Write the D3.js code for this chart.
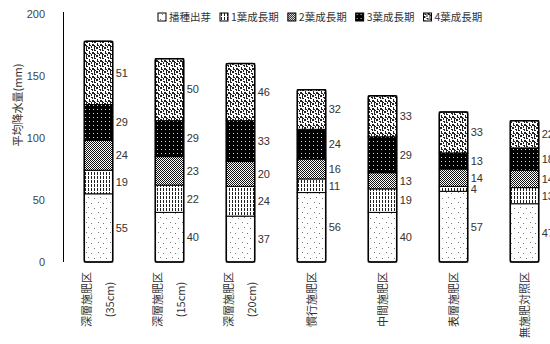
<!DOCTYPE html>
<meta charset="utf-8">
<style>
body { margin: 0; background: #fff; }
text { font-family: "Liberation Sans", "Noto Sans CJK JP", sans-serif; }
.cjk { font-family: "Noto Sans CJK JP", sans-serif; }
.tick { font-size: 11px; fill: #444; }
.val { font-size: 11px; fill: #333; }
.legendLabel { font-size: 10.5px; fill: #333; }
</style>
<body>
<script src="https://d3js.org/d3.v7.min.js"></script>
<script>
// categories (two-line labels for the first three)
const categories = [
  ["深層施肥区", "(35cm)"],
  ["深層施肥区", "(15cm)"],
  ["深層施肥区", "(20cm)"],
  ["慣行施肥区"],
  ["中間施肥区"],
  ["表層施肥区"],
  ["無施肥対照区"]
];
const stages = ["播種出芽", "1葉成長期", "2葉成長期", "3葉成長期", "4葉成長期"];
// values per stage, bottom to top
const stage0 = [55, 40, 37, 56, 40, 57, 47];
const stage1 = [19, 22, 24, 11, 19, 4, 13];
const stage2 = [24, 23, 20, 16, 13, 14, 14];
const stage3 = [29, 29, 33, 24, 29, 13, 18];
const stage4 = [51, 50, 46, 32, 33, 33, 22];
const yTicks = [0, 50, 100, 150, 200];
const yTitle = "平均降水量(mm)";

const width = 550, height = 344;
const svg = d3.select("body").append("svg")
    .attr("width", width)
    .attr("height", height);

// fill patterns
const defs = svg.append("defs");
function pat(id, w, h, draw) {
  const p = defs.append("pattern").attr("id", id)
      .attr("patternUnits", "userSpaceOnUse")
      .attr("width", w).attr("height", h);
  draw(p);
}
pat("p0", 12, 10, p => {
  p.append("rect").attr("width", 12).attr("height", 10).attr("fill", "#fff");
  [[2, 2], [7, 3], [4, 7], [10, 8]].forEach(d =>
    p.append("rect").attr("x", d[0]).attr("y", d[1]).attr("width", 1).attr("height", 1).attr("fill", "#777"));
});
pat("p1", 3, 4, p => {
  p.append("rect").attr("width", 3).attr("height", 4).attr("fill", "#fff");
  p.append("rect").attr("x", 1).attr("width", 1).attr("height", 3).attr("fill", "#222");
});
pat("p2", 2, 2, p => {
  p.append("rect").attr("width", 2).attr("height", 2).attr("fill", "#fff");
  p.append("rect").attr("width", 1).attr("height", 1).attr("fill", "#111");
  p.append("rect").attr("x", 1).attr("y", 1).attr("width", 1).attr("height", 1).attr("fill", "#111");
});
pat("p3", 4, 4, p => {
  p.append("rect").attr("width", 4).attr("height", 4).attr("fill", "#000");
  p.append("rect").attr("x", 1).attr("y", 1).attr("width", 1).attr("height", 1).attr("fill", "#ddd");
});
pat("p4", 8, 8, p => {
  p.append("rect").attr("width", 8).attr("height", 8).attr("fill", "#fff");
  p.append("path").attr("fill", "#222")
    .attr("d", "M0,0h2v1h-2zM3,1h2v2h-1v-1h-1zM6,0h1v2h1v1h-2zM1,3h1v2h1v1h-2zM4,4h2v1h1v1h-3zM0,7h2v1h-2zM3,6h1v2h-1zM6,6h2v1h-1v1h-1z");
});
const patterns = ["url(#p0)", "url(#p1)", "url(#p2)", "url(#p3)", "url(#p4)"];

const x = d3.scaleBand()
    .domain(d3.range(categories.length))
    .range([63, 560])
    .paddingInner(0.6)
    .paddingOuter(0.3);
const y = d3.scaleLinear().domain([0, 200]).range([262, 14]);

const rows = categories.map((c, i) => ({
  i, s0: stage0[i], s1: stage1[i], s2: stage2[i], s3: stage3[i], s4: stage4[i]
}));
const series = d3.stack().keys(["s0", "s1", "s2", "s3", "s4"])(rows);

// y axis
svg.append("line")
    .attr("x1", 63.5).attr("x2", 63.5)
    .attr("y1", y(200) - 2).attr("y2", y(0))
    .attr("stroke", "#000").attr("stroke-width", 1);
svg.append("g").selectAll("text")
  .data(yTicks)
  .join("text")
    .attr("class", "tick")
    .attr("x", 45)
    .attr("y", d => y(d))
    .attr("dy", "0.35em")
    .attr("text-anchor", "end")
    .text(d => d);
svg.append("text")
    .attr("class", "cjk")
    .attr("transform", `translate(22,105) rotate(-90)`)
    .attr("text-anchor", "middle")
    .attr("font-size", 11)
    .attr("fill", "#333")
    .text(yTitle);

// stacked bars
const bars = svg.append("g");
series.forEach((s, k) => {
  bars.append("g").selectAll("rect")
    .data(s)
    .join("rect")
      .attr("x", d => x(d.data.i))
      .attr("y", d => y(d[1]))
      .attr("width", x.bandwidth())
      .attr("height", d => y(d[0]) - y(d[1]))
      .attr("fill", patterns[k])
      .attr("stroke", "#000")
      .attr("stroke-width", 1);
});
// outline
bars.append("g").selectAll("rect")
  .data(series[4])
  .join("rect")
    .attr("x", d => x(d.data.i))
    .attr("y", d => y(d[1]))
    .attr("width", x.bandwidth())
    .attr("height", d => y(0) - y(d[1]))
    .attr("rx", 2)
    .attr("fill", "none")
    .attr("stroke", "#000")
    .attr("stroke-width", 1.5);

// value labels
series.forEach(s => {
  svg.append("g").selectAll("text")
    .data(s)
    .join("text")
      .attr("class", "val")
      .attr("x", d => x(d.data.i) + x.bandwidth() + 3)
      .attr("y", d => (y(d[0]) + y(d[1])) / 2)
      .attr("dy", "0.35em")
      .text(d => d[1] - d[0]);
});

// category labels, rotated
const cat = svg.append("g").selectAll("g")
  .data(categories)
  .join("g")
    .attr("transform", (d, i) => `translate(${x(i) + x.bandwidth() / 2},272) rotate(-90)`);
cat.each(function (lines) {
  const g = d3.select(this);
  const n = lines.length;
  const lh = 23;
  const t0 = g.append("text").attr("class", "cjk")
      .attr("font-size", 11).attr("fill", "#333")
      .attr("text-anchor", "end")
      .attr("y", -(n - 1) * lh / 2 + 4)
      .text(lines[0]);
  const len = t0.node().getComputedTextLength();
  lines.slice(1).forEach((l, j) => {
    g.append("text").attr("class", "cjk")
      .attr("font-size", 11).attr("fill", "#333")
      .attr("text-anchor", "middle")
      .attr("x", -len / 2)
      .attr("y", -(n - 1) * lh / 2 + (j + 1) * lh + 4)
      .text(l);
  });
});

// legend
const legend = svg.append("g").attr("transform", "translate(158,17)");
let lx = 0;
stages.forEach((s, k) => {
  const g = legend.append("g").attr("transform", `translate(${lx},0)`);
  g.append("rect")
      .attr("x", 0).attr("y", -4)
      .attr("width", 8).attr("height", 8)
      .attr("fill", patterns[k])
      .attr("stroke", "#000");
  const t = g.append("text")
      .attr("class", "legendLabel cjk")
      .attr("x", 11)
      .attr("dy", "0.35em")
      .text(s);
  lx += 11 + t.node().getComputedTextLength() + 9;
});
</script>
</body>
